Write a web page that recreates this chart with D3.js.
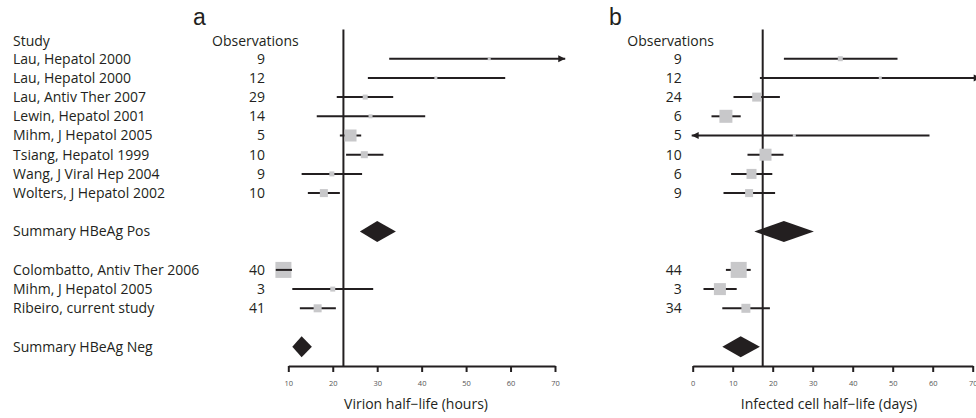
<!DOCTYPE html>
<html>
<head>
<meta charset="utf-8">
<script src="https://cdn.jsdelivr.net/npm/d3@7"></script>
<style>
  body { margin: 0; background: #fff; }
  text { font-family: "Open Sans", sans-serif; fill: #231f20; }
</style>
</head>
<body>
<div class="chart"></div>
<script>
var svgWidth = 976;
var svgHeight = 418;

// study names and which row slot they sit in
var studies = [
  "Lau, Hepatol 2000", "Lau, Hepatol 2000", "Lau, Antiv Ther 2007", "Lewin, Hepatol 2001",
  "Mihm, J Hepatol 2005", "Tsiang, Hepatol 1999", "Wang, J Viral Hep 2004", "Wolters, J Hepatol 2002",
  "Colombatto, Antiv Ther 2006", "Mihm, J Hepatol 2005", "Ribeiro, current study"
];
var studyRows = [0, 1, 2, 3, 4, 5, 6, 7, 11, 12, 13];
var summaryLabels = ["Summary HBeAg Pos", "Summary HBeAg Neg"];
var summaryRows = [9, 15];

// panel a: virion half-life (hours)
var obsA   = [9, 12, 29, 14, 5, 10, 9, 10, 40, 3, 41];
var estA   = [55.2, 43.2, 27.3, 28.5, 24.0, 27.1, 19.8, 18.0, 8.9, 20.0, 16.6];
var lowA   = [32.7, 27.9, 20.9, 16.4, 21.6, 23.0, 13.0, 14.4, 7.2, 10.9, 12.6];
var highA  = [80, 58.8, 33.6, 40.8, 26.4, 31.4, 26.6, 21.6, 10.8, 29.1, 20.7];
var weightA = [3, 3, 5, 4, 12, 7, 5, 8, 16, 5, 8];
var sumEstA  = [30.0, 13.0];
var sumLowA  = [26.1, 10.9];
var sumHighA = [34.2, 15.3];
var refA = 22.4;
var ticksA = [10, 20, 30, 40, 50, 60, 70];

// panel b: infected cell half-life (days)
var obsB   = [9, 12, 24, 6, 5, 10, 6, 9, 44, 3, 34];
var estB   = [36.9, 46.9, 16.0, 8.3, 25.4, 18.2, 14.7, 14.1, 11.5, 6.8, 13.3];
var lowB   = [22.8, 16.8, 10.2, 4.7, -5, 13.7, 9.6, 7.7, 8.3, 2.7, 7.4];
var highB  = [51.2, 80, 21.8, 12.0, 59.2, 22.7, 19.9, 20.6, 14.5, 11.0, 19.3];
var weightB = [5, 3, 9, 13, 3, 12, 10, 8, 16, 12, 9];
var sumEstB  = [22.8, 12.0];
var sumLowB  = [15.4, 7.4];
var sumHighB = [30.3, 16.8];
var refB = 17.5;
var ticksB = [0, 10, 20, 30, 40, 50, 60, 70];

var ink = "#231f20";
var boxFill = "#c8c8ca";
var axisY = 366;

var svg = d3.select(".chart")
  .append("svg")
  .attr("width", svgWidth)
  .attr("height", svgHeight);

var yScale = d3.scaleLinear().domain([0, 16]).range([58.7, 365.9]);
var boxScale = d3.scaleLinear().domain([0, 16]).range([0, 16]);

// study labels (left column, only once)
svg.append("text").attr("x", 13).attr("y", 41.3).attr("dy", "0.35em")
  .attr("font-size", 14).text("Study");

svg.selectAll(".study")
  .data(studies)
  .enter()
  .append("text")
  .attr("class", "study")
  .attr("x", 13)
  .attr("y", (d, i) => yScale(studyRows[i]))
  .attr("dy", "0.35em")
  .attr("font-size", 14)
  .text(d => d);

svg.selectAll(".summary")
  .data(summaryLabels)
  .enter()
  .append("text")
  .attr("class", "summary")
  .attr("x", 13)
  .attr("y", (d, i) => yScale(summaryRows[i]))
  .attr("dy", "0.35em")
  .attr("font-size", 14)
  .text(d => d);

function arrowPath(x, y, dir) {
  // dir = 1 points right, -1 points left
  return "M" + x + "," + y + "L" + (x - dir * 7) + "," + (y - 3.5) + "L" + (x - dir * 7) + "," + (y + 3.5) + "Z";
}

function drawPanel(p) {
  var g = svg.append("g");
  var x = d3.scaleLinear().domain(p.domain).range(p.range);

  g.append("text").attr("x", p.letterX).attr("y", 25)
    .style("font-family", "'Liberation Sans', Arial, sans-serif")
    .attr("font-size", 23).text(p.letter);

  g.append("text").attr("x", p.obsHeaderX).attr("y", 41.3).attr("dy", "0.35em")
    .attr("font-size", 14).text("Observations");

  g.selectAll(".obs")
    .data(p.obs)
    .enter()
    .append("text")
    .attr("class", "obs")
    .attr("x", p.obsX)
    .attr("y", (d, i) => yScale(studyRows[i]))
    .attr("dy", "0.35em")
    .attr("text-anchor", "end")
    .attr("font-size", 14)
    .text(d => d);

  // reference line
  g.append("line")
    .attr("x1", x(p.ref)).attr("x2", x(p.ref))
    .attr("y1", 29.5).attr("y2", axisY)
    .attr("stroke", ink).attr("stroke-width", 2);

  p.est.forEach(function(est, i) {
    var y = yScale(studyRows[i]);
    var lo = Math.max(p.low[i], p.clip[0]);
    var hi = Math.min(p.high[i], p.clip[1]);
    var side = boxScale(p.weight[i]);
    var ciLine = function() {
      g.append("line")
        .attr("x1", x(lo)).attr("x2", x(hi))
        .attr("y1", y).attr("y2", y)
        .attr("stroke", ink).attr("stroke-width", 2);
    };
    ciLine();
    if (p.high[i] > p.clip[1]) {
      g.append("path").attr("d", arrowPath(x(hi), y, 1)).attr("fill", ink);
    }
    if (p.low[i] < p.clip[0]) {
      g.append("path").attr("d", arrowPath(x(lo), y, -1)).attr("fill", ink);
    }
    g.append("rect")
      .attr("x", x(est) - side / 2)
      .attr("y", y - side / 2)
      .attr("width", side)
      .attr("height", side)
      .attr("fill", boxFill);
    // box about as wide as the interval: put the line back on top
    if (side >= x(hi) - x(lo) - 1) ciLine();
  });

  p.sumEst.forEach(function(est, i) {
    var y = yScale(summaryRows[i]);
    g.append("path")
      .attr("d", "M" + x(p.sumLow[i]) + "," + y + "L" + x(est) + "," + (y - 10.5) +
        "L" + x(p.sumHigh[i]) + "," + y + "L" + x(est) + "," + (y + 10.5) + "Z")
      .attr("fill", ink);
  });

  var axis = g.append("g")
    .attr("transform", `translate(0, ${axisY})`)
    .call(d3.axisBottom(x).tickValues(p.ticks).tickSize(6).tickSizeOuter(0).tickPadding(8.5));
  axis.select(".domain").attr("stroke", ink).attr("stroke-width", 2);
  axis.selectAll(".tick line").attr("stroke", ink).attr("stroke-width", 2);
  axis.selectAll(".tick text")
    .attr("font-size", 7.5)
    .style("font-family", "'Open Sans', sans-serif")
    .style("fill", "#555");

  g.append("text")
    .attr("x", p.titleX)
    .attr("y", 409)
    .attr("text-anchor", "middle")
    .attr("font-size", 14)
    .text(p.title);
}

drawPanel({
  letter: "a", letterX: 193,
  domain: [10, 70], range: [288.3, 555], clip: [0, 72.3],
  ticks: ticksA, obs: obsA, est: estA, low: lowA, high: highA, weight: weightA,
  sumEst: sumEstA, sumLow: sumLowA, sumHigh: sumHighA, ref: refA,
  obsX: 265, obsHeaderX: 212, titleX: 416,
  title: "Virion half\u2212life (hours)"
});

drawPanel({
  letter: "b", letterX: 609,
  domain: [0, 70], range: [692.7, 972.7], clip: [-0.25, 72],
  ticks: ticksB, obs: obsB, est: estB, low: lowB, high: highB, weight: weightB,
  sumEst: sumEstB, sumLow: sumLowB, sumHigh: sumHighB, ref: refB,
  obsX: 681.7, obsHeaderX: 627.3, titleX: 829,
  title: "Infected cell half\u2212life (days)"
});
</script>
</body>
</html>
